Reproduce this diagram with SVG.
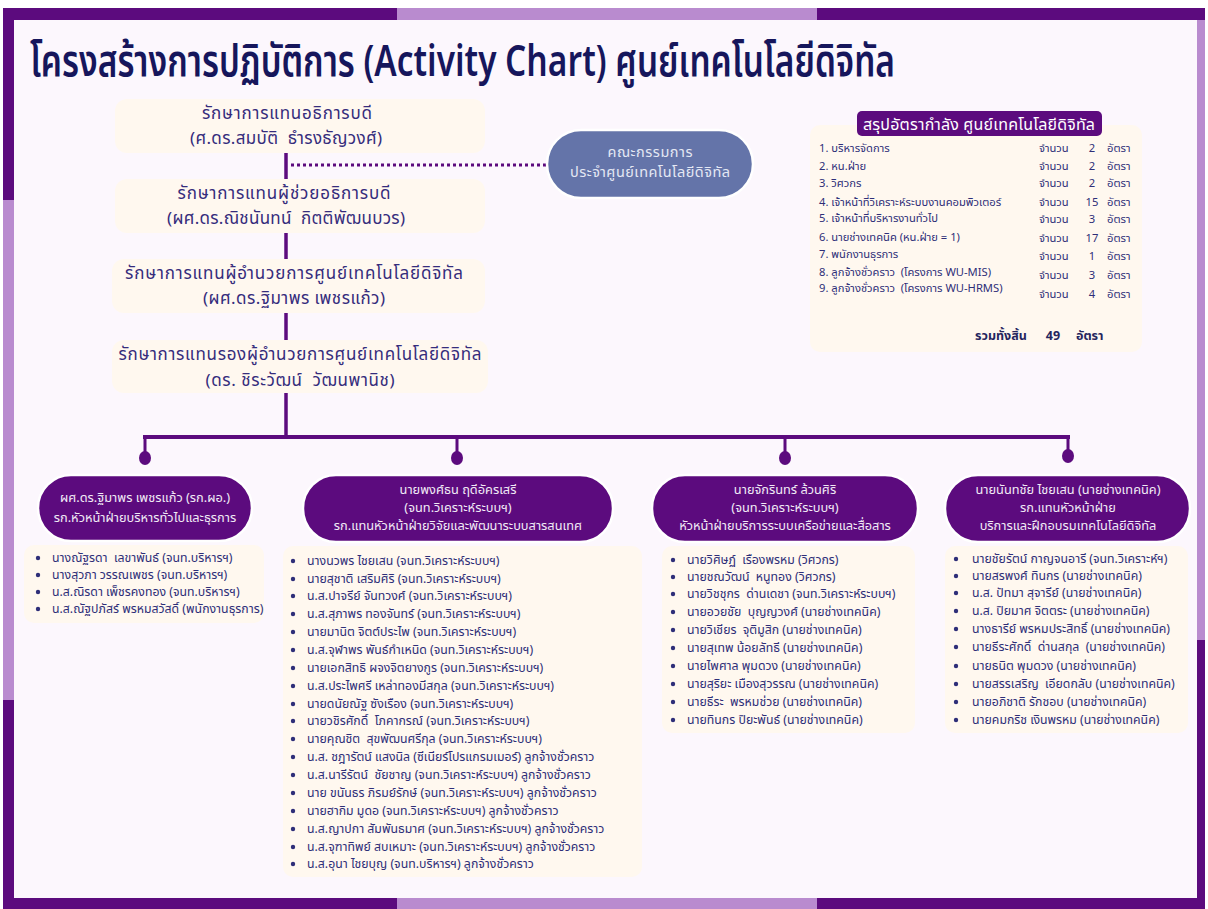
<svg xmlns="http://www.w3.org/2000/svg" width="1208" height="909" viewBox="0 0 1208 909">
<style>
text{font-family:"Noto Sans Thai","Noto Sans","DejaVu Sans",sans-serif;white-space:pre}
.top{font-size:17px;fill:#352c7c;text-anchor:middle}
.lst{font-size:12.3px;fill:#2e2e78}
.pill{font-size:12.8px;fill:#f1eaf6;text-anchor:middle}
.sum{font-size:11.2px;fill:#2e2e78}
.tot{font-size:12.5px;font-weight:bold;fill:#25255e}
.box{fill:#fff8ef}
.pl{fill:#5c0b7e;stroke:#ffffff;stroke-width:2.5}
.ln{stroke:#5c0b7e;stroke-width:4;fill:none}
.dot{fill:#5c0b7e}
.b{fill:#2e2e78}
</style>
<rect width="1208" height="909" fill="#ffffff"/>
<rect x="3" y="8" width="1202" height="901" fill="#5c0b7e"/>
<rect x="397" y="8" width="420" height="12" fill="#b98bcf"/>
<rect x="397" y="898" width="420" height="11" fill="#b98bcf"/>
<rect x="1197" y="20" width="8" height="620" fill="#b98bcf"/>
<rect x="3" y="200" width="11" height="500" fill="#b98bcf"/>
<rect x="14" y="20" width="1183" height="878" fill="#fcf7fd"/>
<text x="30" y="76" font-size="44" font-weight="600" fill="#16165c" textLength="865" lengthAdjust="spacingAndGlyphs">โครงสร้างการปฏิบัติการ (Activity Chart) ศูนย์เทคโนโลยีดิจิทัล</text>
<g id="connectors">
<line class="ln" x1="286" y1="152" x2="286" y2="437" style="stroke-width:3.5"/>
<line x1="291" y1="165" x2="546" y2="165" stroke="#5c0b7e" stroke-width="3" stroke-dasharray="3 3"/>
<line class="ln" x1="143" y1="437" x2="1070" y2="437"/>
<line class="ln" x1="145" y1="437" x2="145" y2="455" style="stroke-width:3"/>
<line class="ln" x1="457" y1="437" x2="457" y2="455" style="stroke-width:3"/>
<line class="ln" x1="785" y1="437" x2="785" y2="455" style="stroke-width:3"/>
<line class="ln" x1="1068" y1="437" x2="1068" y2="453" style="stroke-width:3"/>
<ellipse class="dot" cx="145" cy="458" rx="6" ry="7"/>
<ellipse class="dot" cx="457" cy="458" rx="6" ry="7"/>
<ellipse class="dot" cx="785" cy="458" rx="6" ry="7"/>
<ellipse class="dot" cx="1068" cy="456" rx="6" ry="7"/>
</g>
<g id="n1"><rect class="box" x="115" y="99" width="370" height="54" rx="12"/>
<text class="top" x="287" y="119" textLength="170">รักษาการแทนอธิการบดี</text>
<text class="top" x="286" y="144" textLength="192">(ศ.ดร.สมบัติ  ธำรงธัญวงศ์)</text></g>
<g id="n2"><rect class="box" x="115" y="179" width="370" height="54" rx="12"/>
<text class="top" x="284" y="199" textLength="213">รักษาการแทนผู้ช่วยอธิการบดี</text>
<text class="top" x="286" y="224" textLength="238">(ผศ.ดร.ณิชนันทน์  กิตติพัฒนบวร)</text></g>
<g id="n3"><rect class="box" x="112" y="259" width="373" height="54" rx="12"/>
<text class="top" x="294" y="279" textLength="338">รักษาการแทนผู้อำนวยการศูนย์เทคโนโลยีดิจิทัล</text>
<text class="top" x="294" y="304" textLength="182">(ผศ.ดร.ฐิมาพร เพชรแก้ว)</text></g>
<g id="n4"><rect class="box" x="112" y="340" width="376" height="53" rx="12"/>
<text class="top" x="300" y="360" textLength="363">รักษาการแทนรองผู้อำนวยการศูนย์เทคโนโลยีดิจิทัล</text>
<text class="top" x="300" y="386" textLength="189">(ดร. ชิระวัฒน์  วัฒนพานิช)</text></g>
<g id="committee"><rect x="547" y="130" width="206" height="68" rx="34" fill="#6474a9" stroke="#ffffff" stroke-width="2.5"/>
<text x="650" y="157" font-size="14.5" fill="#e4e8f4" text-anchor="middle" textLength="85">คณะกรรมการ</text>
<text x="650" y="177" font-size="14.5" fill="#e4e8f4" text-anchor="middle" textLength="160">ประจำศูนย์เทคโนโลยีดิจิทัล</text></g>
<g id="summary"><rect class="box" x="810" y="125" width="332" height="227" rx="10"/>
<rect x="857" y="111" width="245" height="25" rx="5" fill="#5c0b7e"/>
<text x="979" y="130" font-size="16" fill="#ffffff" text-anchor="middle" textLength="232">สรุปอัตรากำลัง ศูนย์เทคโนโลยีดิจิทัล</text>
<text class="sum" x="819" y="152">1. บริหารจัดการ</text>
<text class="sum" x="819" y="170">2. หน.ฝ่าย</text>
<text class="sum" x="819" y="187">3. วิศวกร</text>
<text class="sum" x="819" y="206">4. เจ้าหน้าที่วิเคราะห์ระบบงานคอมพิวเตอร์</text>
<text class="sum" x="819" y="222">5. เจ้าหน้าที่บริหารงานทั่วไป</text>
<text class="sum" x="819" y="241">6. นายช่างเทคนิค (หน.ฝ่าย = 1)</text>
<text class="sum" x="819" y="258">7. พนักงานธุรการ</text>
<text class="sum" x="819" y="276">8. ลูกจ้างชั่วคราว  (โครงการ WU-MIS)</text>
<text class="sum" x="819" y="292">9. ลูกจ้างชั่วคราว  (โครงการ WU-HRMS)</text>
<text class="sum" x="1039" y="152">จำนวน</text><text class="sum" x="1092" y="152" text-anchor="middle">2</text><text class="sum" x="1107" y="152">อัตรา</text>
<text class="sum" x="1039" y="170">จำนวน</text><text class="sum" x="1092" y="170" text-anchor="middle">2</text><text class="sum" x="1107" y="170">อัตรา</text>
<text class="sum" x="1039" y="187">จำนวน</text><text class="sum" x="1092" y="187" text-anchor="middle">2</text><text class="sum" x="1107" y="187">อัตรา</text>
<text class="sum" x="1039" y="206">จำนวน</text><text class="sum" x="1092" y="206" text-anchor="middle">15</text><text class="sum" x="1107" y="206">อัตรา</text>
<text class="sum" x="1039" y="223">จำนวน</text><text class="sum" x="1092" y="223" text-anchor="middle">3</text><text class="sum" x="1107" y="223">อัตรา</text>
<text class="sum" x="1039" y="242">จำนวน</text><text class="sum" x="1092" y="242" text-anchor="middle">17</text><text class="sum" x="1107" y="242">อัตรา</text>
<text class="sum" x="1039" y="260">จำนวน</text><text class="sum" x="1092" y="260" text-anchor="middle">1</text><text class="sum" x="1107" y="260">อัตรา</text>
<text class="sum" x="1039" y="279">จำนวน</text><text class="sum" x="1092" y="279" text-anchor="middle">3</text><text class="sum" x="1107" y="279">อัตรา</text>
<text class="sum" x="1039" y="298">จำนวน</text><text class="sum" x="1092" y="298" text-anchor="middle">4</text><text class="sum" x="1107" y="298">อัตรา</text>
<text class="tot" x="975" y="340">รวมทั้งสิ้น</text>
<text class="tot" x="1053" y="340" text-anchor="middle">49</text>
<text class="tot" x="1076" y="340">อัตรา</text></g>
<g id="pA"><rect class="pl" x="38" y="475" width="214" height="66" rx="33"/>
<text class="pill" x="145" y="502">ผศ.ดร.ฐิมาพร เพชรแก้ว (รก.ผอ.)</text>
<text class="pill" x="145" y="522">รก.หัวหน้าฝ่ายบริหารทั่วไปและธุรการ</text></g>
<g id="pB"><rect class="pl" x="303" y="475" width="310" height="67" rx="33"/>
<text class="pill" x="458" y="494">นายพงศ์ธน ฤดีอัครเสรี</text>
<text class="pill" x="458" y="512">(จนท.วิเคราะห์ระบบฯ)</text>
<text class="pill" x="458" y="530">รก.แทนหัวหน้าฝ่ายวิจัยและพัฒนาระบบสารสนเทศ</text></g>
<g id="pC"><rect class="pl" x="652" y="475" width="266" height="67" rx="33"/>
<text class="pill" x="785" y="494">นายจักรินทร์ ล้วนศิริ</text>
<text class="pill" x="785" y="512">(จนท.วิเคราะห์ระบบฯ)</text>
<text class="pill" x="785" y="530">หัวหน้าฝ่ายบริการระบบเครือข่ายและสื่อสาร</text></g>
<g id="pD"><rect class="pl" x="945" y="475" width="245" height="67" rx="33"/>
<text class="pill" x="1068" y="494">นายนันทชัย ไชยเสน (นายช่างเทคนิค)</text>
<text class="pill" x="1068" y="512">รก.แทนหัวหน้าฝ่าย</text>
<text class="pill" x="1068" y="530">บริการและฝึกอบรมเทคโนโลยีดิจิทัล</text></g>
<g id="listA"><rect class="box" x="24" y="545" width="240" height="78" rx="10"/>
<circle class="b" cx="38" cy="558" r="2.2"/><text class="lst" x="52" y="562">นางณัฐรดา  เลขาพันธ์ (จนท.บริหารฯ)</text>
<circle class="b" cx="38" cy="575" r="2.2"/><text class="lst" x="52" y="579">นางสุวภา วรรณเพชร (จนท.บริหารฯ)</text>
<circle class="b" cx="38" cy="592" r="2.2"/><text class="lst" x="52" y="596">น.ส.ณิรดา เพ็ชรคงทอง (จนท.บริหารฯ)</text>
<circle class="b" cx="38" cy="609" r="2.2"/><text class="lst" x="52" y="613">น.ส.ณัฐปภัสร์ พรหมสวัสดิ์ (พนักงานธุรการ)</text></g>
<g id="listB"><rect class="box" x="283" y="546" width="359" height="331" rx="10"/>
<circle class="b" cx="293" cy="561" r="2.2"/><text class="lst" x="307" y="565">นางนวพร ไชยเสน (จนท.วิเคราะห์ระบบฯ)</text>
<circle class="b" cx="293" cy="579" r="2.2"/><text class="lst" x="307" y="583">นายสุชาติ เสริมศิริ (จนท.วิเคราะห์ระบบฯ)</text>
<circle class="b" cx="293" cy="596" r="2.2"/><text class="lst" x="307" y="600">น.ส.ปาจรีย์ จันทวงศ์ (จนท.วิเคราะห์ระบบฯ)</text>
<circle class="b" cx="293" cy="614" r="2.2"/><text class="lst" x="307" y="618">น.ส.สุภาพร ทองจันทร์ (จนท.วิเคราะห์ระบบฯ)</text>
<circle class="b" cx="293" cy="632" r="2.2"/><text class="lst" x="307" y="636">นายมานิต จิตต์ประไพ (จนท.วิเคราะห์ระบบฯ)</text>
<circle class="b" cx="293" cy="650" r="2.2"/><text class="lst" x="307" y="654">น.ส.จุฬาพร พันธ์กำเหนิด (จนท.วิเคราะห์ระบบฯ)</text>
<circle class="b" cx="293" cy="668" r="2.2"/><text class="lst" x="307" y="672">นายเอกสิทธิ ผจงจิตยางกูร (จนท.วิเคราะห์ระบบฯ)</text>
<circle class="b" cx="293" cy="686" r="2.2"/><text class="lst" x="307" y="690">น.ส.ประไพศรี เหล่าทองมีสกุล (จนท.วิเคราะห์ระบบฯ)</text>
<circle class="b" cx="293" cy="704" r="2.2"/><text class="lst" x="307" y="708">นายดนัยณัฐ ซังเรือง (จนท.วิเคราะห์ระบบฯ)</text>
<circle class="b" cx="293" cy="721" r="2.2"/><text class="lst" x="307" y="725">นายวชิรศักดิ์  โภคากรณ์ (จนท.วิเคราะห์ระบบฯ)</text>
<circle class="b" cx="293" cy="739" r="2.2"/><text class="lst" x="307" y="743">นายคุณชิต  สุขพัฒนศรีกุล (จนท.วิเคราะห์ระบบฯ)</text>
<circle class="b" cx="293" cy="757" r="2.2"/><text class="lst" x="307" y="761">น.ส. ชฎารัตน์ แสงนิล (ซีเนียร์โปรแกรมเมอร์) ลูกจ้างชั่วคราว</text>
<circle class="b" cx="293" cy="775" r="2.2"/><text class="lst" x="307" y="779">น.ส.นารีรัตน์  ชัยชาญ (จนท.วิเคราะห์ระบบฯ) ลูกจ้างชั่วคราว</text>
<circle class="b" cx="293" cy="793" r="2.2"/><text class="lst" x="307" y="797">นาย ขนันธร ภิรมย์รักษ์ (จนท.วิเคราะห์ระบบฯ) ลูกจ้างชั่วคราว</text>
<circle class="b" cx="293" cy="811" r="2.2"/><text class="lst" x="307" y="815">นายฮากิม มูดอ (จนท.วิเคราะห์ระบบฯ) ลูกจ้างชั่วคราว</text>
<circle class="b" cx="293" cy="829" r="2.2"/><text class="lst" x="307" y="833">น.ส.ญาปกา สัมพันธมาศ (จนท.วิเคราะห์ระบบฯ) ลูกจ้างชั่วคราว</text>
<circle class="b" cx="293" cy="847" r="2.2"/><text class="lst" x="307" y="851">น.ส.จุฑาทิพย์ สบเหมาะ (จนท.วิเคราะห์ระบบฯ) ลูกจ้างชั่วคราว</text>
<circle class="b" cx="293" cy="864" r="2.2"/><text class="lst" x="307" y="868">น.ส.อุนา ไชยบุญ (จนท.บริหารฯ) ลูกจ้างชั่วคราว</text></g>
<g id="listC"><rect class="box" x="662" y="546" width="253" height="187" rx="10"/>
<circle class="b" cx="673" cy="560" r="2.2"/><text class="lst" x="687" y="564">นายวิศิษฏ์  เรืองพรหม (วิศวกร)</text>
<circle class="b" cx="673" cy="577" r="2.2"/><text class="lst" x="687" y="581">นายชณวัฒน์  หนูทอง (วิศวกร)</text>
<circle class="b" cx="673" cy="594" r="2.2"/><text class="lst" x="687" y="598">นายวิชชุกร  ด่านเดชา (จนท.วิเคราะห์ระบบฯ)</text>
<circle class="b" cx="673" cy="612" r="2.2"/><text class="lst" x="687" y="616">นายอวยชัย  บุญญวงศ์ (นายช่างเทคนิค)</text>
<circle class="b" cx="673" cy="630" r="2.2"/><text class="lst" x="687" y="634">นายวิเชียร  จุติมูสิก (นายช่างเทคนิค)</text>
<circle class="b" cx="673" cy="648" r="2.2"/><text class="lst" x="687" y="652">นายสุเทพ น้อยลัทธี (นายช่างเทคนิค)</text>
<circle class="b" cx="673" cy="666" r="2.2"/><text class="lst" x="687" y="670">นายไพศาล พุมดวง (นายช่างเทคนิค)</text>
<circle class="b" cx="673" cy="684" r="2.2"/><text class="lst" x="687" y="688">นายสุริยะ เมืองสุวรรณ (นายช่างเทคนิค)</text>
<circle class="b" cx="673" cy="702" r="2.2"/><text class="lst" x="687" y="706">นายธีระ  พรหมช่วย (นายช่างเทคนิค)</text>
<circle class="b" cx="673" cy="720" r="2.2"/><text class="lst" x="687" y="724">นายทินกร ปิยะพันธ์ (นายช่างเทคนิค)</text></g>
<g id="listD"><rect class="box" x="945" y="546" width="243" height="187" rx="10"/>
<circle class="b" cx="956" cy="559" r="2.2"/><text class="lst" x="972" y="563">นายชัยรัตน์ กาญจนอารี (จนท.วิเคราะห์ฯ)</text>
<circle class="b" cx="956" cy="576" r="2.2"/><text class="lst" x="972" y="580">นายสรพงศ์ ทินกร (นายช่างเทคนิค)</text>
<circle class="b" cx="956" cy="593" r="2.2"/><text class="lst" x="972" y="597">น.ส. ปัทมา สุจารีย์ (นายช่างเทคนิค)</text>
<circle class="b" cx="956" cy="611" r="2.2"/><text class="lst" x="972" y="615">น.ส. ปิยมาศ จิตตระ (นายช่างเทคนิค)</text>
<circle class="b" cx="956" cy="629" r="2.2"/><text class="lst" x="972" y="633">นางธารีย์ พรหมประสิทธิ์ (นายช่างเทคนิค)</text>
<circle class="b" cx="956" cy="647" r="2.2"/><text class="lst" x="972" y="651">นายธีระศักดิ์  ด่านสกุล  (นายช่างเทคนิค)</text>
<circle class="b" cx="956" cy="666" r="2.2"/><text class="lst" x="972" y="670">นายธนิต พุมดวง (นายช่างเทคนิค)</text>
<circle class="b" cx="956" cy="684" r="2.2"/><text class="lst" x="972" y="688">นายสรรเสริญ  เอียดกลับ (นายช่างเทคนิค)</text>
<circle class="b" cx="956" cy="702" r="2.2"/><text class="lst" x="972" y="706">นายอภิชาติ รักชอบ (นายช่างเทคนิค)</text>
<circle class="b" cx="956" cy="720" r="2.2"/><text class="lst" x="972" y="724">นายคมกริช เงินพรหม (นายช่างเทคนิค)</text></g>
</svg>
